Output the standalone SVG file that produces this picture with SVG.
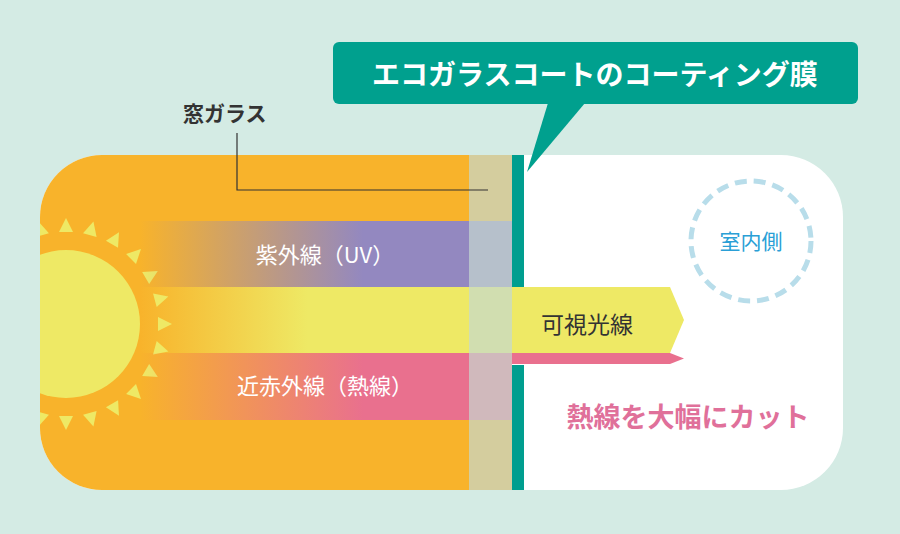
<svg xmlns="http://www.w3.org/2000/svg" width="900" height="534" viewBox="0 0 900 534">
<defs>
<clipPath id="card"><rect x="40" y="155" width="803" height="335" rx="62"/></clipPath>
<linearGradient id="gUV" x1="0" x2="1"><stop offset="0" stop-color="#9388c0" stop-opacity="0"/><stop offset="0.6" stop-color="#9388c0"/></linearGradient>
<linearGradient id="gVis" x1="0" x2="1"><stop offset="0" stop-color="#eee965" stop-opacity="0"/><stop offset="0.45" stop-color="#eee965"/></linearGradient>
<linearGradient id="gIR" x1="0" x2="1"><stop offset="0" stop-color="#e9708e" stop-opacity="0"/><stop offset="0.6" stop-color="#e9708e"/></linearGradient>
<style>
.w{font-family:"Noto Sans CJK JP",sans-serif;fill:#fff;font-size:22px;text-anchor:middle}
.ray{fill:#eee965}
</style>
</defs>
<rect width="900" height="534" fill="#d4ebe4"/>
<g id="card-bg" clip-path="url(#card)">
<rect x="40" y="155" width="803" height="335" fill="#fff"/>
<rect x="40" y="155" width="472" height="335" fill="#f8b32b"/>
<g id="sun">
<circle cx="66" cy="324" r="74" fill="#eee965"/>
<g transform="translate(66,324)">
<polygon class="ray" points="92,-7 92,7 106,0" transform="rotate(0)"/>
<polygon class="ray" points="92,-7 92,7 106,0" transform="rotate(-15)"/>
<polygon class="ray" points="92,-7 92,7 106,0" transform="rotate(-30)"/>
<polygon class="ray" points="92,-7 92,7 106,0" transform="rotate(-45)"/>
<polygon class="ray" points="92,-7 92,7 106,0" transform="rotate(-60)"/>
<polygon class="ray" points="92,-7 92,7 106,0" transform="rotate(-75)"/>
<polygon class="ray" points="92,-7 92,7 106,0" transform="rotate(-90)"/>
<polygon class="ray" points="92,-7 92,7 106,0" transform="rotate(-105)"/>
<polygon class="ray" points="92,-7 92,7 106,0" transform="rotate(15)"/>
<polygon class="ray" points="92,-7 92,7 106,0" transform="rotate(30)"/>
<polygon class="ray" points="92,-7 92,7 106,0" transform="rotate(45)"/>
<polygon class="ray" points="92,-7 92,7 106,0" transform="rotate(60)"/>
<polygon class="ray" points="92,-7 92,7 106,0" transform="rotate(75)"/>
<polygon class="ray" points="92,-7 92,7 106,0" transform="rotate(90)"/>
<polygon class="ray" points="92,-7 92,7 106,0" transform="rotate(105)"/>
</g>
</g>
<rect id="uv" x="140" y="221" width="372" height="66" fill="url(#gUV)"/>
<g id="visible">
<rect x="140" y="287" width="372" height="66" fill="url(#gVis)"/>
<polygon points="512,287 670,287 684,320 670,353 512,353" fill="#eee965"/>
</g>
<g id="nir">
<rect x="140" y="353" width="372" height="67" fill="url(#gIR)"/>
<polygon points="512,353 670,353 684,358.5 670,364 512,364" fill="#e9708e"/>
</g>
<rect id="glass" x="469" y="155" width="43" height="335" fill="#c4d8d0" fill-opacity="0.7"/>
<g id="film" fill="#009e8f">
<rect x="512" y="155" width="12" height="132"/>
<rect x="512" y="365" width="12" height="125"/>
</g>
</g>
<g id="connectors">
<polyline points="237,133 237,190 488,190" fill="none" stroke="#333" stroke-width="1.2"/>
</g>
<g id="callout">
<rect x="333" y="42" width="525" height="62" rx="6" fill="#00a08e"/>
<polygon points="548,103 585,103 527,172" fill="#00a08e"/>
<text x="595" y="85" font-family="Noto Sans CJK JP,sans-serif" font-weight="bold" font-size="28" fill="#fff" text-anchor="middle">エコガラスコートのコーティング膜</text>
</g>
<text id="glass-label" x="183" y="121" font-family="Noto Sans CJK JP,sans-serif" font-weight="bold" font-size="21" fill="#333">窓ガラス</text>
<text class="w" x="325" y="263">紫外線（UV）</text>
<text class="w" x="325" y="394">近赤外線（熱線）</text>
<text x="587" y="333" font-family="Noto Sans CJK JP,sans-serif" font-size="23" fill="#333" text-anchor="middle">可視光線</text>
<g id="room">
<circle cx="751" cy="241" r="60" fill="none" stroke="#b8ddea" stroke-width="5" stroke-dasharray="12 7"/>
<text x="751" y="249" font-family="Noto Sans CJK JP,sans-serif" font-size="21" fill="#2a9fd6" text-anchor="middle">室内側</text>
</g>
<text x="688" y="427" font-family="Noto Sans CJK JP,sans-serif" font-weight="bold" font-size="27" fill="#e0709a" text-anchor="middle">熱線を大幅にカット</text>
</svg>
